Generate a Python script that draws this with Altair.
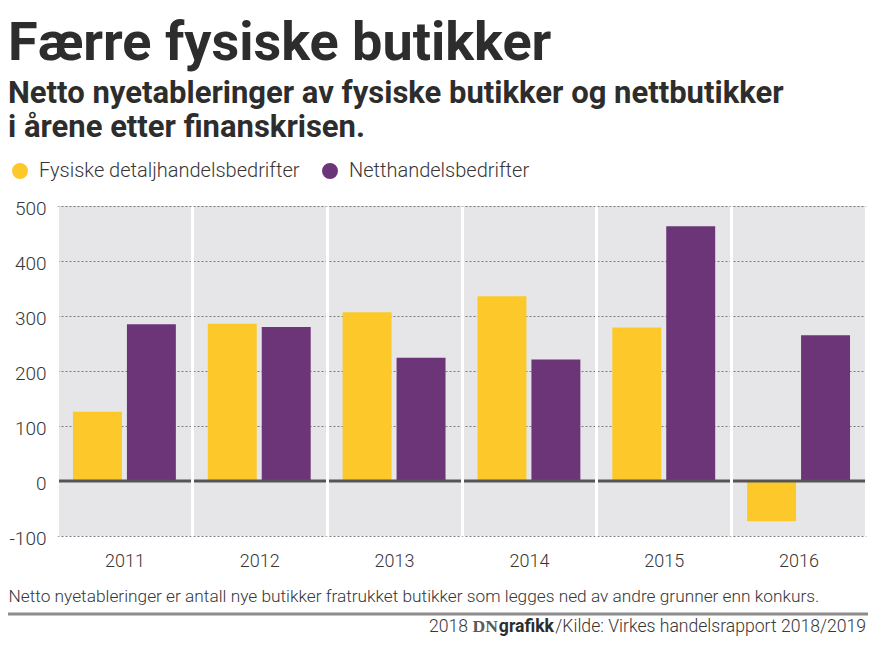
import altair as alt
import pandas as pd

# ---- data ----
years = ["2011", "2012", "2013", "2014", "2015", "2016"]
fysiske = [126, 286, 307, 336, 279, -73]
nett = [285, 280, 224, 221, 463, 265]
series = ["Fysiske detaljhandelsbedrifter", "Netthandelsbedrifter"]
colors = ["#fdc82a", "#6c3578"]
y_ticks = [-100, 0, 100, 200, 300, 400, 500]

title_text = "Færre fysiske butikker"
subtitle_lines = [
    "Netto nyetableringer av fysiske butikker og nettbutikker",
    "i årene etter finanskrisen.",
]
note_text = ("Netto nyetableringer er antall nye butikker fratrukket butikker "
             "som legges ned av andre grunner enn konkurs.")
credit_year = ["2018"]
credit_dn = ["DN"]
credit_grafikk = ["grafikk"]
credit_source = ["/Kilde: Virkes handelsrapport 2018/2019"]

rows = []
for i, yr in enumerate(years):
    rows.append({"year": yr, "series": series[0], "value": fysiske[i]})
    rows.append({"year": yr, "series": series[1], "value": nett[i]})
df = pd.DataFrame(rows)

FONT = "Roboto, Liberation Sans, sans-serif"
SERIF = "Liberation Serif, DejaVu Serif, serif"
TXT = "#363636"
W, H = 809, 330
PAD_L, PAD_T = 49, 198
CREDIT_Y = 426
CREDIT_SIZE = 17.6

bars = alt.Chart(df).mark_bar().encode(
    x=alt.X(
        "year:N", sort=years,
        scale=alt.Scale(paddingInner=0, paddingOuter=0),
        axis=alt.Axis(
            title=note_text, titleAnchor="start", titleAlign="left",
            titleX=-PAD_L, titleY=65, titleBaseline="alphabetic",
            titleFont=FONT, titleFontSize=17.3, titleFontWeight=300,
            titleColor=TXT,
            labelFont=FONT, labelFontSize=18, labelFontWeight=300,
            labelColor=TXT, labelAngle=0,
            labelPadding=16, ticks=False, domain=False,
            grid=True, gridColor="white", gridWidth=3, tickBand="extent",
            zindex=1,
        ),
    ),
    xOffset=alt.XOffset(
        "series:N", sort=series,
        scale=alt.Scale(paddingInner=0.0926, paddingOuter=0.296),
    ),
    y=alt.Y(
        "value:Q",
        scale=alt.Scale(domain=[-100, 500], nice=False, zero=False),
        axis=alt.Axis(
            values=y_ticks, title=None, labelExpr="'' + datum.value",
            labelFont=FONT, labelFontSize=19, labelFontWeight=300,
            labelColor=TXT, labelPadding=11,
            labelBaseline="middle", labelOffset=2,
            ticks=False, domain=False,
            grid=True, gridColor="#7a7a7a", gridDash=[2, 2], gridWidth=1,
        ),
    ),
    color=alt.Color(
        "series:N", sort=series,
        scale=alt.Scale(domain=series, range=colors),
        legend=alt.Legend(
            orient="none", legendX=-47, legendY=-45, direction="horizontal",
            title=None, symbolType="circle", symbolSize=254,
            symbolStrokeWidth=0, symbolOpacity=1,
            labelFont=FONT, labelFontSize=20, labelFontWeight=300,
            labelColor=TXT, labelLimit=0,
            labelOffset=9, columnPadding=20,
        ),
    ),
)

zero = alt.Chart(pd.DataFrame({"v": [0]})).mark_rule(
    color="#555555", strokeWidth=3
).encode(y="v:Q")

sep = alt.Chart(pd.DataFrame({"a": [0]})).mark_rule(
    color="#8c8c8c", strokeWidth=3
).encode(x=alt.value(-PAD_L), x2=alt.value(W + 2), y=alt.value(408))


def credit(texts, x, font, weight, color):
    return alt.Chart(pd.DataFrame({"t": texts})).mark_text(
        align="right", baseline="alphabetic", font=font,
        fontSize=CREDIT_SIZE, fontWeight=weight, color=color
    ).encode(text="t:N", x=alt.value(x), y=alt.value(CREDIT_Y))


c_src = credit(credit_source, W, FONT, 300, TXT)
c_graf = credit(credit_grafikk, 497, FONT, "bold", "#2d2d2d")
c_dn = credit(credit_dn, 441, SERIF, "bold", "#5a5a5a")
c_year = credit(credit_year, 411, FONT, 300, TXT)

chart = alt.layer(bars, zero, sep, c_src, c_graf, c_dn, c_year).properties(
    width=W, height=H,
    autosize=alt.AutoSizeParams(type="none"),
    padding={"left": PAD_L, "top": PAD_T, "right": 7, "bottom": 102},
    title=alt.TitleParams(
        text=title_text, subtitle=subtitle_lines,
        anchor="start", frame="group", dx=-PAD_L, offset=18,
        font=FONT, fontSize=54, fontWeight="bold", color="#2d2d2d",
        subtitleFont=FONT, subtitleFontSize=31, subtitleFontWeight="bold",
        subtitleColor="#2d2d2d", subtitleLineHeight=34, subtitlePadding=8,
    ),
).configure_view(fill="#e6e6e8", strokeWidth=0)

chart.save("out.html", embed_options={"renderer": "svg", "actions": False})
